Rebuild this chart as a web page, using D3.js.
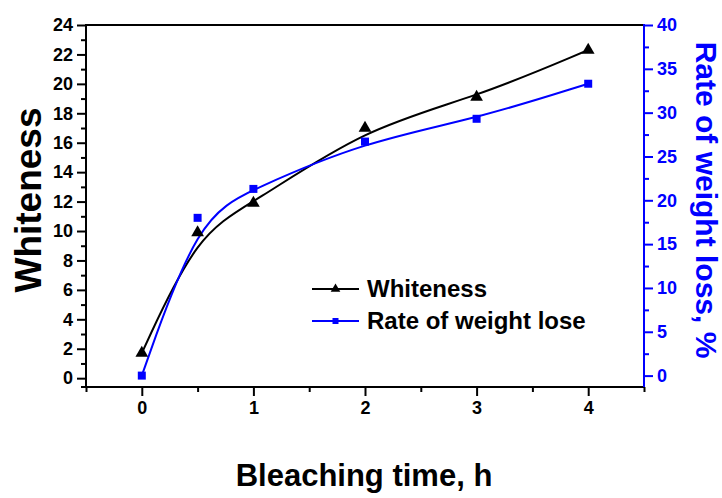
<!DOCTYPE html>
<html>
<head>
<meta charset="utf-8">
<script src="https://cdn.jsdelivr.net/npm/d3@7"></script>
<style>
  html, body { margin: 0; padding: 0; background: #fff; }
  svg { display: block; font-family: Arial, "Liberation Sans", sans-serif; font-weight: bold; }
</style>
</head>
<body>
<svg id="chart" width="722" height="498"></svg>
<script>
// ---- data ----
const timeH = [0, 0.5, 1, 2, 3, 4];
const whiteness = [1.7, 9.9, 11.9, 17.0, 19.1, 22.3];
const weightLoss = [0, 18.0, 21.3, 26.7, 29.3, 33.3];
const xTicks = [0, 1, 2, 3, 4];
const leftTicks = [0, 2, 4, 6, 8, 10, 12, 14, 16, 18, 20, 22, 24];
const rightTicks = [0, 5, 10, 15, 20, 25, 30, 35, 40];
const seriesNames = ["Whiteness", "Rate of weight lose"];

const svg = d3.select("#chart");
const L = 86, R = 644, T = 25, B = 387;
const BLUE = "#0000ff";

const x = d3.scaleLinear().domain([-0.5, 4.5]).range([L, R]);
const yL = d3.scaleLinear().domain([-0.6, 24]).range([B, T]);
const yR = d3.scaleLinear().domain([-1.3, 40]).range([B, T]);

// minor tick values
const xMinor = d3.range(-0.5, 4.51, 1);
const yLMinor = d3.range(1, 23.5, 2);
const yRMinor = d3.range(2.5, 40, 5);

// ---- axes ----
function styleAxis(g, color) {
  g.select(".domain").remove();
  g.selectAll("line").attr("stroke", color).attr("stroke-width", 2);
  g.selectAll("text").attr("fill", color).style("font-size", "18px").style("font-weight", "bold");
}

// bottom
const gx = svg.append("g").attr("transform", `translate(0,${B})`)
  .call(d3.axisBottom(x).tickValues(xTicks).tickSize(9).tickPadding(5).tickFormat(d3.format("d")));
styleAxis(gx, "#000");
svg.append("g").attr("transform", `translate(0,${B})`)
  .call(d3.axisBottom(x).tickValues(xMinor).tickSize(5).tickFormat(""))
  .call(g => styleAxis(g, "#000"));

// left
const gl = svg.append("g").attr("transform", `translate(${L},0)`)
  .call(d3.axisLeft(yL).tickValues(leftTicks).tickSize(9).tickPadding(4).tickFormat(d3.format("d")));
styleAxis(gl, "#000");
svg.append("g").attr("transform", `translate(${L},0)`)
  .call(d3.axisLeft(yL).tickValues(yLMinor).tickSize(5).tickFormat(""))
  .call(g => styleAxis(g, "#000"));
// small tick at the bottom end of the left axis
svg.append("line").attr("x1", L - 5).attr("x2", L).attr("y1", B).attr("y2", B).attr("stroke", "#000").attr("stroke-width", 2);

// right
const gr = svg.append("g").attr("transform", `translate(${R},0)`)
  .call(d3.axisRight(yR).tickValues(rightTicks).tickSize(9).tickPadding(4).tickFormat(d3.format("d")));
styleAxis(gr, BLUE);
svg.append("g").attr("transform", `translate(${R},0)`)
  .call(d3.axisRight(yR).tickValues(yRMinor).tickSize(5).tickFormat(""))
  .call(g => styleAxis(g, BLUE));

// frame lines
svg.append("line").attr("x1", L).attr("x2", R).attr("y1", T).attr("y2", T).attr("stroke", "#000").attr("stroke-width", 2);
svg.append("line").attr("x1", L).attr("x2", R + 1).attr("y1", B).attr("y2", B).attr("stroke", "#000").attr("stroke-width", 2);
svg.append("line").attr("x1", L).attr("x2", L).attr("y1", T - 1).attr("y2", B + 1).attr("stroke", "#000").attr("stroke-width", 2);
svg.append("line").attr("x1", R).attr("x2", R).attr("y1", T - 1).attr("y2", B).attr("stroke", BLUE).attr("stroke-width", 2);

// ---- series ----
const wData = timeH.map((t, i) => [t, whiteness[i]]);
const rData = timeH.map((t, i) => [t, weightLoss[i]]);

const lineW = d3.line().x(d => x(d[0])).y(d => yL(d[1])).curve(d3.curveBasis);
const lineR = d3.line().x(d => x(d[0])).y(d => yR(d[1])).curve(d3.curveBasis);

svg.append("path").datum(wData).attr("d", lineW).attr("fill", "none").attr("stroke", "#000").attr("stroke-width", 2);
svg.append("path").datum(rData).attr("d", lineR).attr("fill", "none").attr("stroke", BLUE).attr("stroke-width", 2);

const tri = d3.symbol().type(d3.symbolTriangle).size(70);
const sq = d3.symbol().type(d3.symbolSquare).size(64);

svg.append("g").selectAll("path").data(wData).join("path")
  .attr("d", tri).attr("fill", "#000")
  .attr("transform", d => `translate(${x(d[0])},${yL(d[1])})`);
svg.append("g").selectAll("path").data(rData).join("path")
  .attr("d", sq).attr("fill", BLUE)
  .attr("transform", d => `translate(${x(d[0])},${yR(d[1])})`);

// ---- titles ----
svg.append("text").attr("x", (L + R) / 2 - 1).attr("y", 486).attr("text-anchor", "middle")
  .style("font-size", "31px").attr("fill", "#000").text("Bleaching time, h");
svg.append("text").attr("transform", `translate(41,200) rotate(-90)`).attr("text-anchor", "middle")
  .style("font-size", "37px").attr("fill", "#000").text("Whiteness");
svg.append("text").attr("transform", `translate(696,200) rotate(90)`).attr("text-anchor", "middle")
  .style("font-size", "30px").attr("fill", BLUE).text("Rate of weight loss, %");

// ---- legend ----
const legend = svg.append("g");
const legRows = [
  { name: seriesNames[0], color: "#000", sym: d3.symbol().type(d3.symbolTriangle).size(40), y: 289 },
  { name: seriesNames[1], color: BLUE, sym: d3.symbol().type(d3.symbolSquare).size(36), y: 321 }
];
legRows.forEach(r => {
  legend.append("line").attr("x1", 312).attr("x2", 359).attr("y1", r.y).attr("y2", r.y)
    .attr("stroke", r.color).attr("stroke-width", 2);
  legend.append("path").attr("d", r.sym).attr("fill", r.color).attr("transform", `translate(335.5,${r.y})`);
  legend.append("text").attr("x", 367).attr("y", r.y).attr("dy", "0.35em")
    .style("font-size", "24px").attr("fill", "#000").text(r.name);
});
</script>
</body>
</html>
